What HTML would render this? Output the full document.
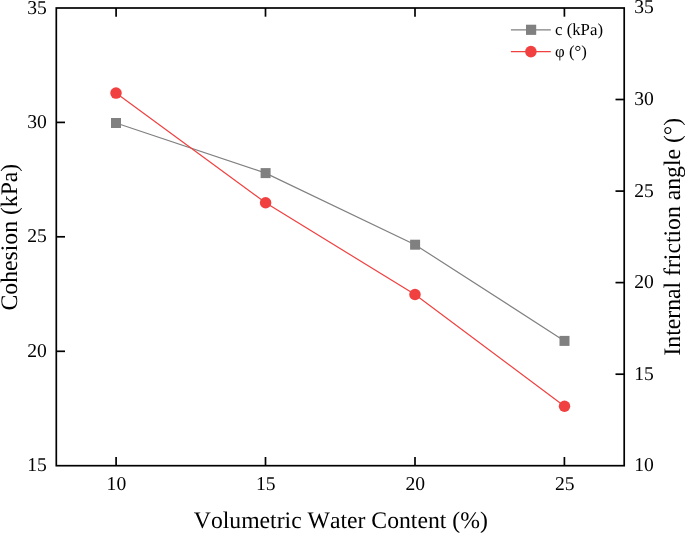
<!DOCTYPE html>
<html lang="en"><head><meta charset="utf-8"><title>Cohesion and internal friction angle vs volumetric water content</title>
<style>html,body{margin:0;padding:0;background:#fff;}body{width:685px;height:533px;overflow:hidden;}svg{display:block;will-change:transform;opacity:0.999;text-rendering:geometricPrecision;}text{font-kerning:none;font-family:"Liberation Serif","Times New Roman",serif;fill:#000;}</style></head><body>
<svg width="685" height="533" viewBox="0 0 685 533">
<rect x="0" y="0" width="685" height="533" fill="#fff"/>
<polyline fill="none" stroke="#808080" stroke-width="1.2" points="116.0,123.0 265.6,173.1 415.1,244.7 564.5,340.9"/>
<polyline fill="none" stroke="#F14040" stroke-width="1.2" points="116.0,93.1 265.6,202.8 415.0,294.5 564.5,406.3"/>
<rect x="111.0" y="118.0" width="10" height="10" fill="#808080"/>
<rect x="260.6" y="168.1" width="10" height="10" fill="#808080"/>
<rect x="410.1" y="239.7" width="10" height="10" fill="#808080"/>
<rect x="559.5" y="335.9" width="10" height="10" fill="#808080"/>
<circle cx="116.0" cy="93.1" r="5.75" fill="#F14040"/>
<circle cx="265.6" cy="202.8" r="5.75" fill="#F14040"/>
<circle cx="415.0" cy="294.5" r="5.75" fill="#F14040"/>
<circle cx="564.5" cy="406.3" r="5.75" fill="#F14040"/>
<g stroke="#000" stroke-width="1.7" fill="none" stroke-linecap="butt">
<rect x="56.3" y="8.0" width="567.9" height="457.7"/>
<line x1="116.1" y1="465.7" x2="116.1" y2="457.0"/>
<line x1="116.1" y1="8.0" x2="116.1" y2="16.7"/>
<line x1="265.5" y1="465.7" x2="265.5" y2="457.0"/>
<line x1="265.5" y1="8.0" x2="265.5" y2="16.7"/>
<line x1="415.0" y1="465.7" x2="415.0" y2="457.0"/>
<line x1="415.0" y1="8.0" x2="415.0" y2="16.7"/>
<line x1="564.4" y1="465.7" x2="564.4" y2="457.0"/>
<line x1="564.4" y1="8.0" x2="564.4" y2="16.7"/>
<line x1="56.3" y1="351.3" x2="65.0" y2="351.3"/>
<line x1="56.3" y1="236.8" x2="65.0" y2="236.8"/>
<line x1="56.3" y1="122.4" x2="65.0" y2="122.4"/>
<line x1="624.2" y1="374.2" x2="615.5" y2="374.2"/>
<line x1="624.2" y1="282.6" x2="615.5" y2="282.6"/>
<line x1="624.2" y1="191.1" x2="615.5" y2="191.1"/>
<line x1="624.2" y1="99.5" x2="615.5" y2="99.5"/>
</g>
<g font-size="19.6">
<text x="116.4" y="490.2" text-anchor="middle">10</text>
<text x="265.8" y="490.2" text-anchor="middle">15</text>
<text x="415.3" y="490.2" text-anchor="middle">20</text>
<text x="564.7" y="490.2" text-anchor="middle">25</text>
<text x="46.9" y="471.2" text-anchor="end">15</text>
<text x="46.9" y="356.8" text-anchor="end">20</text>
<text x="46.9" y="242.3" text-anchor="end">25</text>
<text x="46.9" y="127.9" text-anchor="end">30</text>
<text x="46.9" y="13.5" text-anchor="end">35</text>
<text x="634.2" y="471.1" text-anchor="start">10</text>
<text x="634.2" y="379.6" text-anchor="start">15</text>
<text x="634.2" y="288.0" text-anchor="start">20</text>
<text x="634.2" y="196.5" text-anchor="start">25</text>
<text x="634.2" y="104.9" text-anchor="start">30</text>
<text x="634.2" y="13.4" text-anchor="start">35</text>
</g>
<g font-size="23.7">
<text x="340.8" y="528.0" text-anchor="middle">Volumetric Water Content (%)</text>
<text transform="translate(16.7,237.1) rotate(-90)" text-anchor="middle">Cohesion (kPa)</text>
<text transform="translate(679.8,236.7) rotate(-90)" text-anchor="middle">Internal friction angle (°)</text>
</g>
<line x1="510.9" y1="29.8" x2="550.8" y2="29.8" stroke="#808080" stroke-width="1.2"/>
<rect x="526.0" y="24.7" width="10.2" height="10.2" fill="#808080"/>
<line x1="510.9" y1="51.6" x2="550.8" y2="51.6" stroke="#F14040" stroke-width="1.2"/>
<circle cx="530.9" cy="51.6" r="5.8" fill="#F14040"/>
<g font-size="16.8">
<text x="555.0" y="35.3">c (kPa)</text>
<text x="555.0" y="57.0">φ (°)</text>
</g>
</svg></body></html>
